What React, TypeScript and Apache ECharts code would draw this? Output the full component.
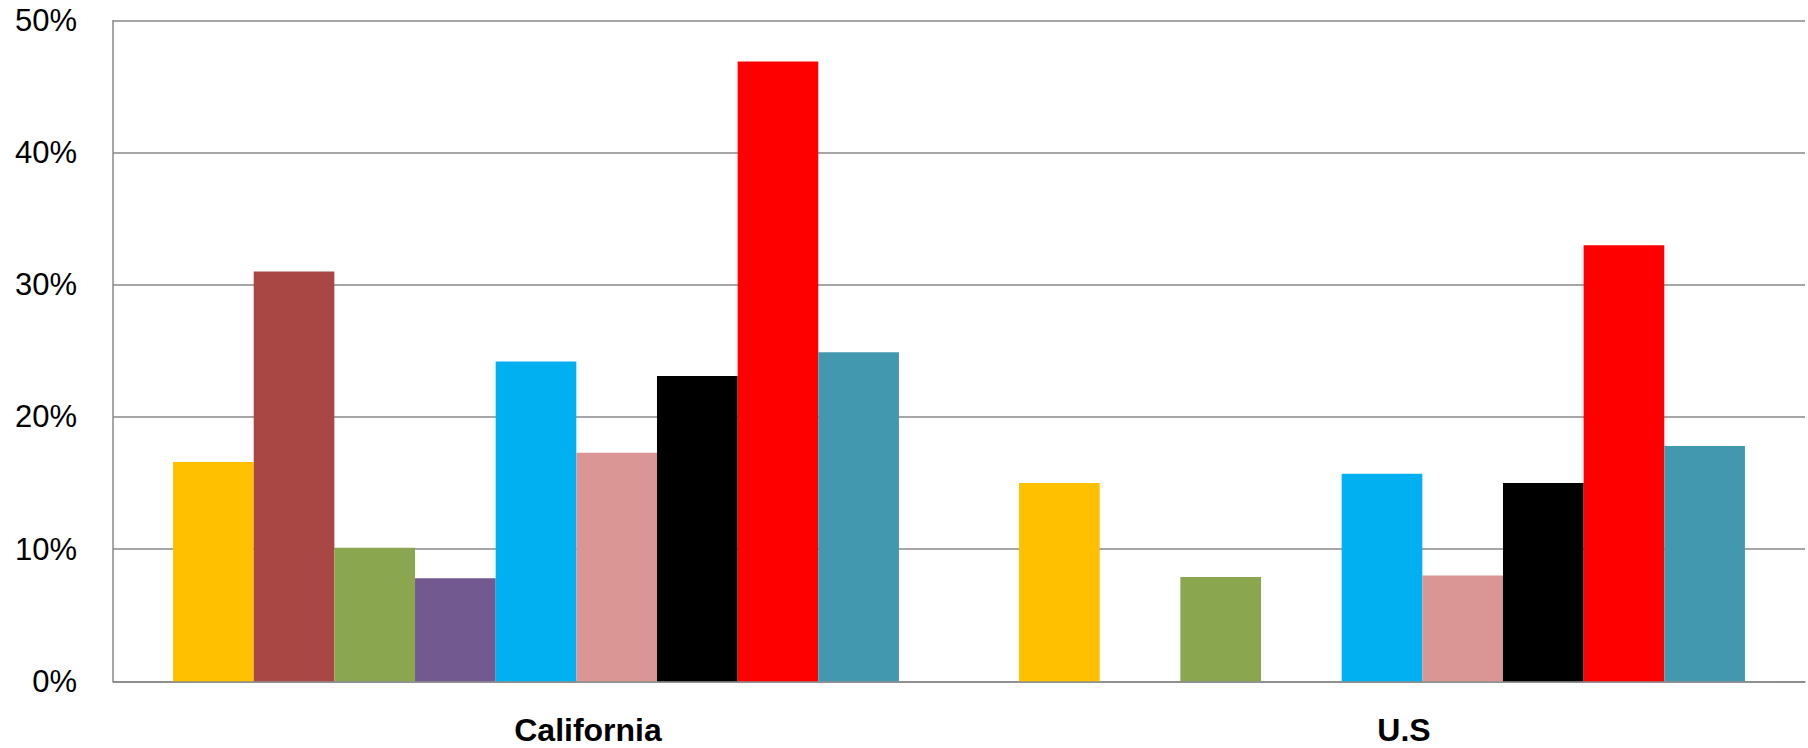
import React, { useEffect, useRef } from "react";
import * as echarts from "echarts";

const categories = ["California", "U.S"];
const seriesNames = ["Series 1", "Series 2", "Series 3", "Series 4", "Series 5", "Series 6", "Series 7", "Series 8", "Series 9"];
const seriesColors = ["#FFC000", "#A94744", "#8AA64F", "#725990", "#00B0F0", "#D99694", "#000000", "#FF0000", "#4198AF"];
const californiaValues = [16.6, 31.0, 10.1, 7.8, 24.2, 17.3, 23.1, 46.9, 24.9];
const usValues = [15.0, null, 7.9, null, 15.7, 8.0, 15.0, 33.0, 17.8];
const yTicks = [0, 10, 20, 30, 40, 50];

export default function App() {
  const ref = useRef<HTMLDivElement>(null);
  useEffect(() => {
    if (!ref.current) return;
    const chart = echarts.init(ref.current, undefined, { renderer: "svg" });
    const series = seriesNames.map((name, i) => ({
      name,
      type: "bar",
      data: [californiaValues[i], usValues[i]],
      itemStyle: { color: seriesColors[i] },
      barGap: "0%",
      barCategoryGap: "14.2%",
    }));
    chart.setOption({
      animation: false,
      backgroundColor: "#ffffff",
      grid: { left: 113, right: 3, top: 20.5, bottom: 748 - 681.3, containLabel: false },
      xAxis: {
        type: "category",
        data: categories,
        axisLine: { show: true, lineStyle: { color: "#888888", width: 1.5 } },
        axisTick: { show: false },
        axisLabel: {
          margin: 33,
          color: "#000000",
          fontFamily: "Liberation Sans",
          fontWeight: "bold",
          fontSize: 32,
          formatter: (v: string) => (v === "California" ? "{ca|" + v + "}" : "{us|" + v + "}"),
          rich: {
            ca: { fontFamily: "Liberation Sans", fontWeight: "bold", fontSize: 32, color: "#000", padding: [0, 0, 0, 104] },
            us: { fontFamily: "Liberation Sans", fontWeight: "bold", fontSize: 32, color: "#000", padding: [0, 0, 0, 44] },
          },
        },
      },
      yAxis: {
        type: "value",
        min: yTicks[0],
        max: yTicks[yTicks.length - 1],
        interval: 10,
        axisLine: { show: true, lineStyle: { color: "#888888", width: 1.5 } },
        axisTick: { show: false },
        splitLine: { show: true, lineStyle: { color: "#888888", width: 1.5 } },
        axisLabel: {
          margin: 36,
          color: "#000000",
          fontFamily: "Liberation Sans",
          fontSize: 31,
          formatter: (v: number) => v + "%",
        },
      },
      series,
    });
    return () => chart.dispose();
  }, []);
  return <div ref={ref} style={{ position: "fixed", left: 0, top: 0, width: 1808, height: 748 }} />;
}
